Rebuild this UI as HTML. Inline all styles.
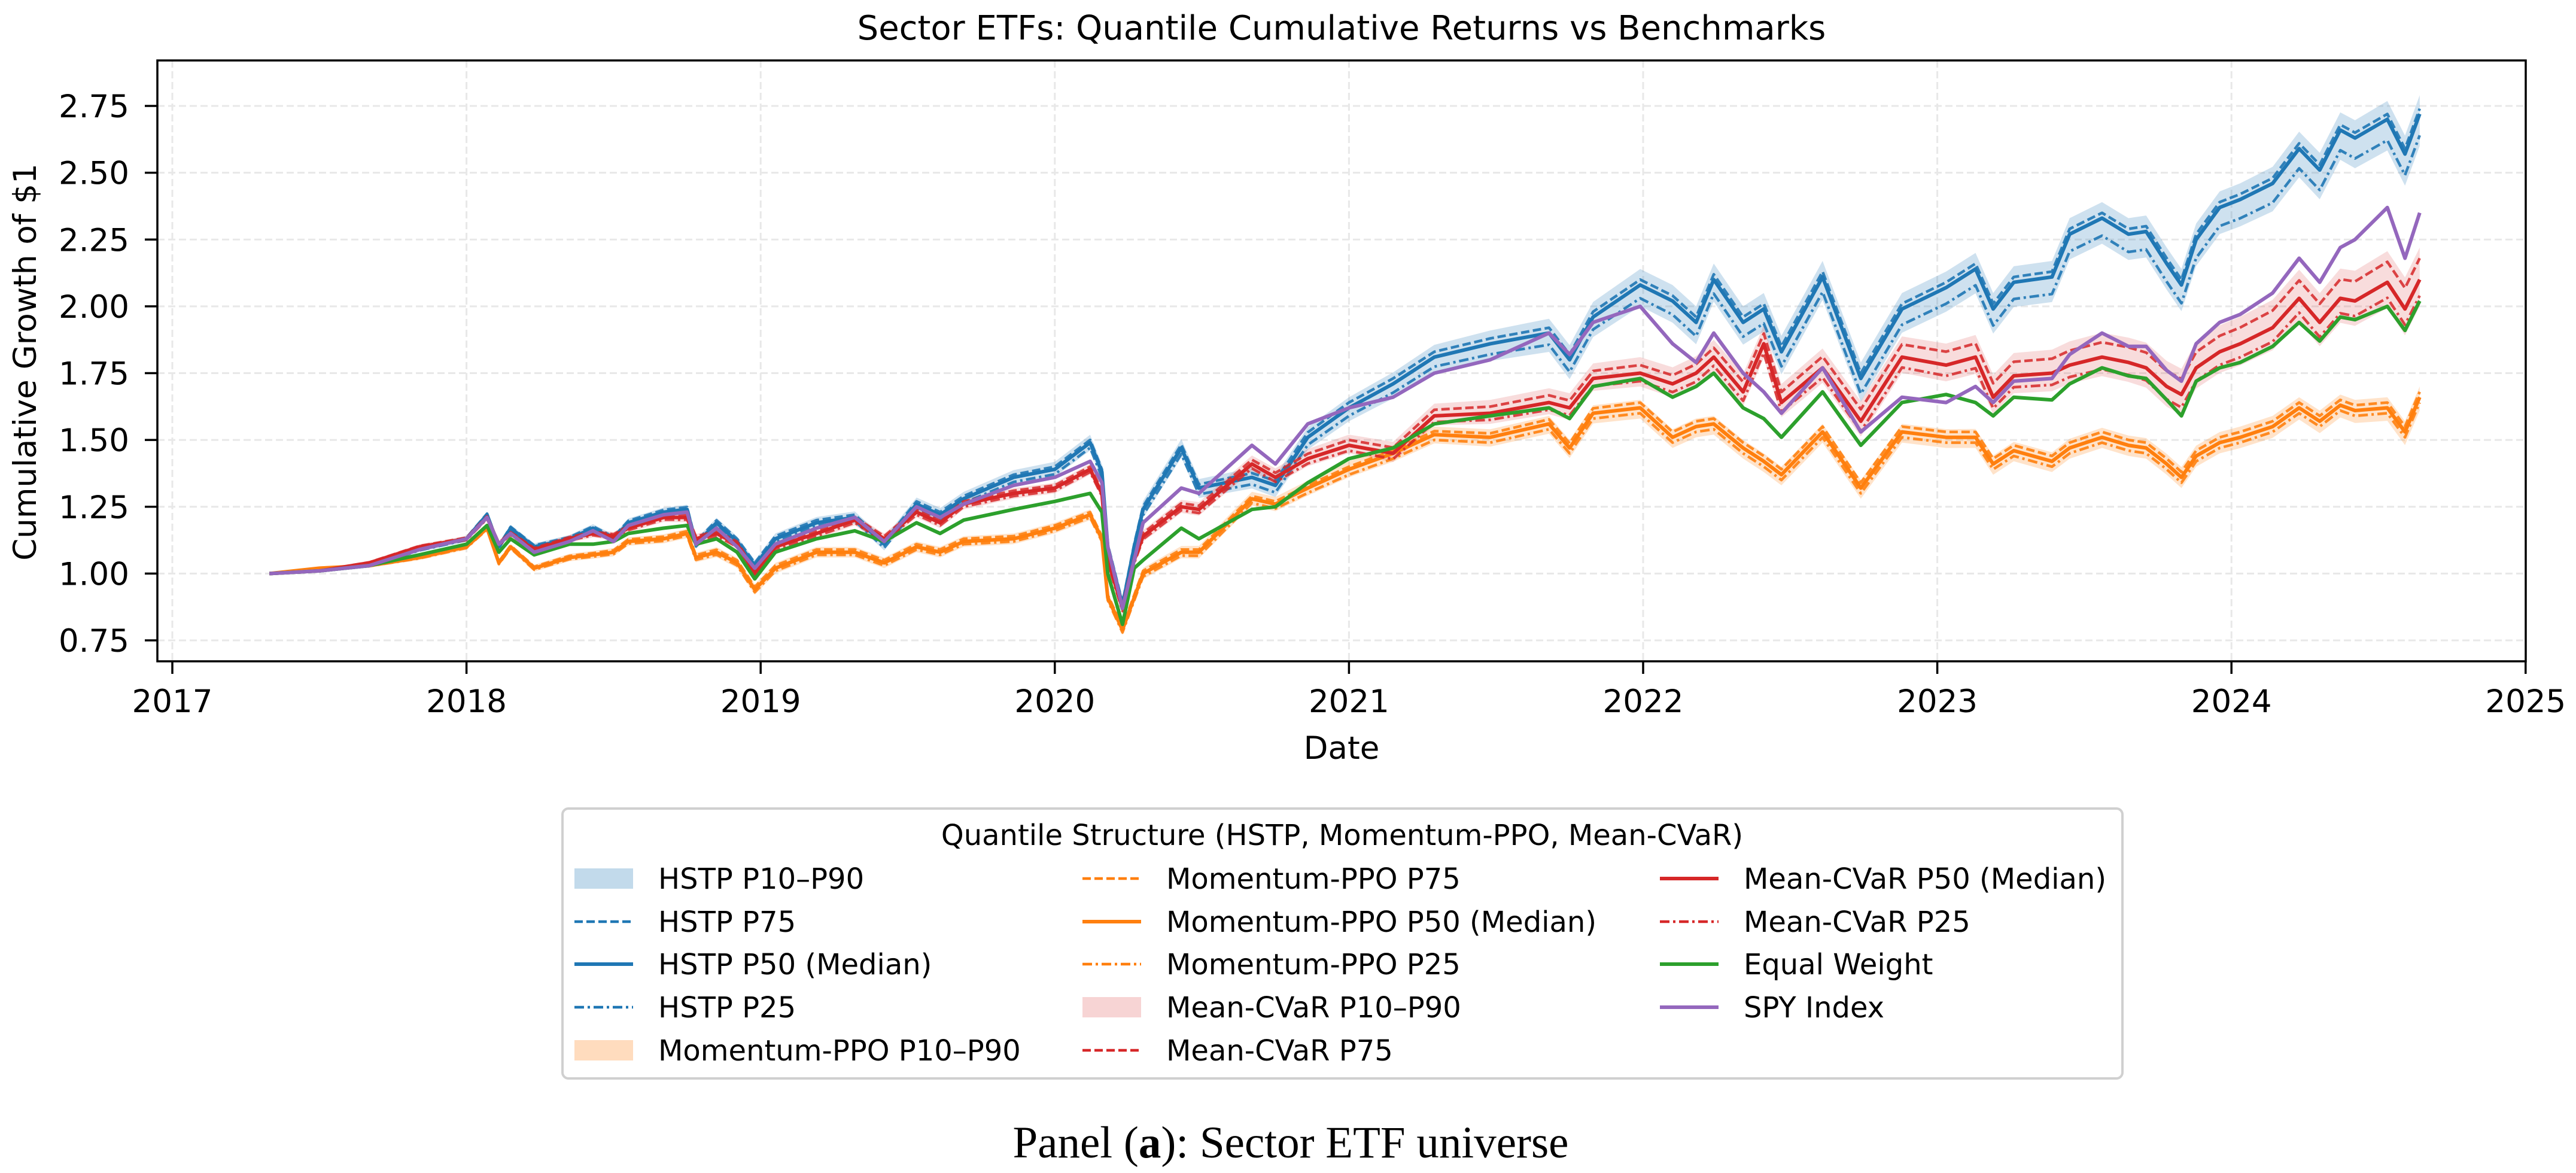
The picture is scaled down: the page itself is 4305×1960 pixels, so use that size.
<!DOCTYPE html>
<html><head><meta charset="utf-8">
<style>
html,body{margin:0;padding:0;background:#fff;}
svg{display:block;}
text{font-family:"DejaVu Sans","Liberation Sans",sans-serif;fill:#000;}
</style></head>
<body>
<svg id="chart" width="4305" height="1960" viewBox="0 0 4305 1960" xmlns="http://www.w3.org/2000/svg">
  <rect x="0" y="0" width="4305" height="1960" fill="#fff"/>
  <text x="2242" y="66" font-size="56" text-anchor="middle">Sector ETFs: Quantile Cumulative Returns vs Benchmarks</text>
  <g id="grid"></g>
  <g id="bands"></g>
  <g id="lines"></g>
  <rect x="263" y="101" width="3958" height="1004" fill="none" stroke="#000" stroke-width="3.5"/>
  <g id="axes"></g>
  <text x="2242" y="1268" font-size="53" text-anchor="middle">Date</text>
  <text x="60" y="605" font-size="53" text-anchor="middle" transform="rotate(-90 60 605)">Cumulative Growth of $1</text>
  <g id="legend">
    <rect x="940" y="1351" width="2607" height="451" rx="10" fill="#fff" stroke="#d0d0d0" stroke-width="4"/>
    <text x="2243" y="1412" font-size="48" text-anchor="middle">Quantile Structure (HSTP, Momentum-PPO, Mean-CVaR)</text>
  </g>
  <text x="2157" y="1934" font-size="75" text-anchor="middle" style="font-family:'Liberation Serif',serif">Panel (<tspan font-weight="bold">a</tspan>): Sector ETF universe</text>
</svg>
<script>
// ---- data ----
const dates = [2017.33,2017.50,2017.67,2017.84,2018.00,2018.07,2018.11,2018.15,2018.23,2018.35,2018.43,2018.50,2018.55,2018.67,2018.75,2018.78,2018.85,2018.92,2018.98,2019.05,2019.19,2019.32,2019.42,2019.53,2019.61,2019.69,2019.86,2020.00,2020.12,2020.16,2020.18,2020.23,2020.27,2020.30,2020.43,2020.49,2020.67,2020.75,2020.86,2021.00,2021.15,2021.29,2021.48,2021.68,2021.75,2021.83,2021.99,2022.10,2022.18,2022.24,2022.34,2022.41,2022.47,2022.61,2022.74,2022.88,2023.03,2023.13,2023.19,2023.26,2023.39,2023.45,2023.56,2023.65,2023.71,2023.78,2023.83,2023.88,2023.96,2024.03,2024.14,2024.23,2024.30,2024.37,2024.42,2024.53,2024.59,2024.64];
const hstpP50 = [1.00,1.01,1.03,1.09,1.13,1.22,1.10,1.17,1.10,1.13,1.17,1.13,1.19,1.23,1.24,1.11,1.19,1.12,1.03,1.13,1.19,1.21,1.11,1.26,1.22,1.28,1.36,1.39,1.49,1.38,1.10,0.88,1.10,1.24,1.47,1.32,1.36,1.33,1.51,1.62,1.71,1.81,1.86,1.90,1.80,1.96,2.08,2.02,1.94,2.10,1.94,1.99,1.83,2.11,1.73,1.99,2.07,2.14,1.99,2.09,2.11,2.27,2.33,2.27,2.28,2.16,2.08,2.25,2.37,2.40,2.46,2.59,2.51,2.66,2.63,2.70,2.57,2.72];
const spyIndex = [1.00,1.01,1.03,1.09,1.13,1.21,1.11,1.15,1.08,1.12,1.16,1.12,1.18,1.22,1.23,1.11,1.17,1.10,1.02,1.11,1.17,1.21,1.12,1.25,1.21,1.26,1.33,1.36,1.42,1.34,1.10,0.87,1.05,1.19,1.32,1.30,1.48,1.41,1.56,1.62,1.66,1.75,1.80,1.90,1.82,1.94,2.00,1.86,1.79,1.90,1.75,1.68,1.60,1.77,1.53,1.66,1.64,1.70,1.64,1.72,1.73,1.82,1.90,1.85,1.85,1.76,1.72,1.86,1.94,1.97,2.05,2.18,2.09,2.22,2.25,2.37,2.18,2.35];
const cvarP50 = [1.00,1.01,1.04,1.10,1.13,1.21,1.11,1.15,1.09,1.13,1.15,1.14,1.17,1.21,1.21,1.13,1.15,1.11,1.00,1.10,1.15,1.20,1.13,1.23,1.19,1.26,1.30,1.32,1.39,1.30,1.05,0.87,1.05,1.14,1.25,1.24,1.41,1.36,1.43,1.48,1.45,1.59,1.60,1.64,1.62,1.73,1.75,1.71,1.75,1.81,1.68,1.86,1.64,1.77,1.57,1.81,1.78,1.81,1.66,1.74,1.75,1.78,1.81,1.79,1.77,1.70,1.67,1.77,1.83,1.86,1.92,2.03,1.94,2.03,2.02,2.09,1.99,2.10];
const equalWeight = [1.00,1.01,1.03,1.07,1.11,1.18,1.08,1.13,1.07,1.11,1.11,1.12,1.15,1.17,1.18,1.11,1.13,1.08,0.98,1.08,1.13,1.16,1.12,1.19,1.15,1.20,1.24,1.27,1.30,1.23,1.00,0.81,1.02,1.05,1.17,1.13,1.24,1.25,1.34,1.43,1.47,1.56,1.59,1.62,1.58,1.70,1.73,1.66,1.70,1.75,1.62,1.58,1.51,1.68,1.48,1.64,1.67,1.64,1.59,1.66,1.65,1.71,1.77,1.74,1.73,1.65,1.59,1.72,1.77,1.79,1.85,1.94,1.87,1.96,1.95,2.00,1.91,2.02];
const momP50 = [1.00,1.02,1.03,1.06,1.10,1.17,1.04,1.10,1.02,1.06,1.07,1.08,1.12,1.13,1.15,1.06,1.08,1.04,0.94,1.02,1.08,1.08,1.04,1.10,1.08,1.12,1.13,1.17,1.22,1.13,0.91,0.79,0.91,1.00,1.08,1.08,1.28,1.26,1.32,1.39,1.45,1.52,1.51,1.56,1.47,1.60,1.62,1.51,1.55,1.56,1.47,1.42,1.37,1.53,1.32,1.53,1.51,1.51,1.41,1.46,1.42,1.47,1.51,1.48,1.47,1.41,1.36,1.44,1.49,1.51,1.55,1.62,1.57,1.63,1.61,1.62,1.53,1.66];
// quantile offsets relative to the median, read at coarse dates
const spreadDates = [2017.33,2019.0,2020.2,2021.0,2022.0,2023.0,2024.0,2024.64];
const hstpOff75 = [0,0.01,0.01,0.02,0.02,0.02,0.02,0.02];
const hstpOff25 = [0,-0.01,-0.02,-0.03,-0.05,-0.06,-0.07,-0.08];
const hstpOff90 = [0.005,0.02,0.03,0.04,0.06,0.06,0.06,0.07];
const hstpOff10 = [-0.005,-0.02,-0.03,-0.05,-0.08,-0.09,-0.10,-0.12];
const momOff75 = [0,0.01,0.01,0.01,0.02,0.02,0.02,0.02];
const momOff25 = [0,-0.01,-0.01,-0.02,-0.02,-0.02,-0.02,-0.02];
const momOff90 = [0.005,0.02,0.02,0.03,0.03,0.03,0.04,0.04];
const momOff10 = [-0.005,-0.02,-0.02,-0.03,-0.04,-0.04,-0.04,-0.05];
const cvarOff75 = [0,0.01,0.01,0.02,0.03,0.05,0.06,0.08];
const cvarOff25 = [0,-0.01,-0.01,-0.02,-0.03,-0.04,-0.05,-0.06];
const cvarOff90 = [0.005,0.02,0.02,0.04,0.06,0.08,0.10,0.12];
const cvarOff10 = [-0.005,-0.02,-0.02,-0.03,-0.05,-0.06,-0.08,-0.10];
const yTicks = [0.75,1.00,1.25,1.50,1.75,2.00,2.25,2.50,2.75];
const xTicks = [2017,2018,2019,2020,2021,2022,2023,2024,2025];

// ---- axes ----
const X0=263, X1=4221, Y0=101, Y1=1105;
function xs(t){ return 288 + (t-2017)*491.6; }
function ys(v){ return 1070 - (v-0.75)*446.5; }
const NS='http://www.w3.org/2000/svg';
function mk(tag, attrs, parent){ const e=document.createElementNS(NS,tag); for(const k in attrs) e.setAttribute(k,attrs[k]); parent.appendChild(e); return e; }
function interp(t, xsArr, vals){
  if(t<=xsArr[0]) return vals[0];
  for(let i=1;i<xsArr.length;i++){ if(t<=xsArr[i]){ const f=(t-xsArr[i-1])/(xsArr[i]-xsArr[i-1]); return vals[i-1]+f*(vals[i]-vals[i-1]); } }
  return vals[vals.length-1];
}
function withOff(base, off){ return base.map((v,i)=> v + interp(dates[i], spreadDates, off)); }

const grid=document.getElementById('grid'), axes=document.getElementById('axes');
yTicks.forEach(v=>{
  const y=ys(v);
  const g=mk('line',{x1:X0,x2:X1,y1:y,y2:y,stroke:'#e8e8e8','stroke-width':3,'stroke-dasharray':'12 6'},grid);
  
  
  const tk=mk('line',{x1:X0-21,x2:X0,y1:y,y2:y,stroke:'#000','stroke-width':3.5},axes);
  
  
  const tx=mk('text',{x:216,y:y+19,'font-size':53,'text-anchor':'end'},axes);
  tx.textContent=v.toFixed(2);
  
  
});
xTicks.forEach(t=>{
  const x=xs(t);
  const g=mk('line',{x1:x,x2:x,y1:Y0,y2:Y1,stroke:'#e8e8e8','stroke-width':3,'stroke-dasharray':'12 6'},grid);
  
  
  const tk=mk('line',{x1:x,x2:x,y1:Y1,y2:Y1+21,stroke:'#000','stroke-width':3.5},axes);
  
  
  const tx=mk('text',{x:x,y:1190,'font-size':53,'text-anchor':'middle'},axes);
  tx.textContent=String(t);
  
  
});

function pts(vals){ return vals.map((v,i)=>xs(dates[i]).toFixed(1)+','+ys(v).toFixed(1)).join(' '); }
const bands=document.getElementById('bands'), lines=document.getElementById('lines');
function band(base, lo, hi, color, op, name){
  const up=withOff(base,hi), dn=withOff(base,lo);
  const p = up.map((v,i)=>xs(dates[i]).toFixed(1)+','+ys(v).toFixed(1));
  for(let i=dn.length-1;i>=0;i--) p.push(xs(dates[i]).toFixed(1)+','+ys(dn[i]).toFixed(1));
  const e=mk('polygon',{points:p.join(' '),fill:color,'fill-opacity':op,stroke:'none'},bands);
  
  
}
function line(vals,color,w,dash,name,op){
  const a={points:pts(vals),fill:'none',stroke:color,'stroke-width':w,'stroke-linejoin':'round','stroke-opacity':op||1};
  if(dash) a['stroke-dasharray']=dash;
  const e=mk('polyline',a,lines);
  
  
}
const C={b:'#1f77b4',o:'#ff7f0e',g:'#2ca02c',r:'#d62728',p:'#9467bd'};
band(hstpP50,hstpOff10,hstpOff90,C.b,0.22,'hstp-band');
band(momP50,momOff10,momOff90,C.o,0.22,'momentum-band');
band(cvarP50,cvarOff10,cvarOff90,C.r,0.16,'cvar-band');
line(withOff(hstpP50,hstpOff75),C.b,4.5,'14 6','hstp-p75',0.9);
line(withOff(hstpP50,hstpOff25),C.b,4.5,'16 6 4 6','hstp-p25',0.9);
line(hstpP50,C.b,6,null,'hstp-p50');
line(withOff(momP50,momOff75),C.o,4.5,'14 6','momentum-p75',0.9);
line(withOff(momP50,momOff25),C.o,4.5,'16 6 4 6','momentum-p25',0.9);
line(momP50,C.o,6,null,'momentum-p50');
line(withOff(cvarP50,cvarOff75),C.r,4.5,'14 6','cvar-p75',0.85);
line(withOff(cvarP50,cvarOff25),C.r,4.5,'16 6 4 6','cvar-p25',0.85);
line(cvarP50,C.r,6,null,'cvar-p50');
line(equalWeight,C.g,6,null,'equal-weight-line');
line(spyIndex,C.p,6,null,'spy-index-line');

// ---- legend ----
const legend=document.getElementById('legend');
const legendLabels=['HSTP P10\u2013P90','HSTP P75','HSTP P50 (Median)','HSTP P25','Momentum-PPO P10\u2013P90','Momentum-PPO P75','Momentum-PPO P50 (Median)','Momentum-PPO P25','Mean-CVaR P10\u2013P90','Mean-CVaR P75','Mean-CVaR P50 (Median)','Mean-CVaR P25','Equal Weight','SPY Index'];
const legendKinds=['patch','dash','solid','dashdot','patch','dash','solid','dashdot','patch','dash','solid','dashdot','solid','solid'];
const legendColors=[C.b,C.b,C.b,C.b,C.o,C.o,C.o,C.o,C.r,C.r,C.r,C.r,C.g,C.p];
const colX=[960,1809,2774], rowY=[1468,1540,1611,1683,1755];
legendLabels.forEach((lab,i)=>{
  const col=Math.floor(i/5), row=i%5, hx=colX[col], y=rowY[row];
  let h;
  if(legendKinds[i]==='patch'){
    const op = legendColors[i]===C.r?0.2:0.27;
    h=mk('rect',{x:hx,y:y-17,width:98,height:34,fill:legendColors[i],'fill-opacity':op},legend);
  } else {
    const a={x1:hx,x2:hx+98,y1:y,y2:y,stroke:legendColors[i],'stroke-width':legendKinds[i]==='solid'?6:4.5};
    if(legendKinds[i]==='dash') a['stroke-dasharray']='14 6';
    if(legendKinds[i]==='dashdot') a['stroke-dasharray']='16 6 4 6';
    h=mk('line',a,legend);
  }
  
  
  const t=mk('text',{x:colX[col]+140,y:y+17,'font-size':48},legend);
  t.textContent=lab;
  
  
});
</script>
</body></html>
